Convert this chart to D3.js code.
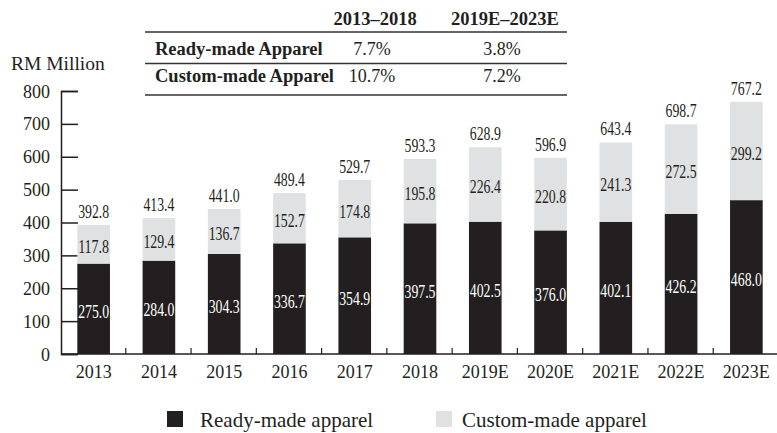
<!DOCTYPE html>
<html>
<head>
<meta charset="utf-8">
<script src="https://cdn.jsdelivr.net/npm/d3@7"></script>
<style>
  body { margin: 0; background: #fff; }
  svg { font-family: "Liberation Serif", "Times New Roman", serif; }
</style>
</head>
<body>
<svg width="777" height="433"></svg>
<script>
let years = ['2013', '2014', '2015', '2016', '2017', '2018', '2019E', '2020E', '2021E', '2022E', '2023E'];
let ready = [275.0, 284.0, 304.3, 336.7, 354.9, 397.5, 402.5, 376.0, 402.1, 426.2, 468.0];
let custom = [117.8, 129.4, 136.7, 152.7, 174.8, 195.8, 226.4, 220.8, 241.3, 272.5, 299.2];
let totals = [392.8, 413.4, 441.0, 489.4, 529.7, 593.3, 628.9, 596.9, 643.4, 698.7, 767.2];
let yTicks = [0, 100, 200, 300, 400, 500, 600, 700, 800];
let cagrHeads = ['2013–2018', '2019E–2023E'];
let cagrRows = ['Ready-made Apparel', 'Custom-made Apparel'];
let cagrVals = [['7.7%', '3.8%'], ['10.7%', '7.2%']];

let black = '#231f20';
let grey = '#e0e1e3';
let svg = d3.select('svg');

let xScale = d3.scaleBand()
    .domain(years)
    .range([61, 779])
    .paddingInner(0.5)
    .paddingOuter(0.25);

let yScale = d3.scaleLinear()
    .domain([0, 800])
    .range([354, 91]);

// y axis, ticks pointing into the plot
let yAxis = d3.axisRight(yScale).tickValues(yTicks).tickSize(17).tickFormat('');
let gy = svg.append('g').attr('transform', 'translate(61,0)').call(yAxis);
gy.select('.domain').attr('stroke', black).attr('stroke-width', 1.5);
gy.selectAll('.tick line').attr('stroke', black).attr('stroke-width', 1.5);
svg.selectAll('.ylab')
    .data(yTicks)
    .enter()
    .append('text')
    .attr('x', 50)
    .attr('y', d => yScale(d) + 6.5)
    .attr('text-anchor', 'end')
    .attr('font-size', 18)
    .attr('fill', black)
    .text(d => d);

svg.append('text')
    .attr('x', 11)
    .attr('y', 70)
    .attr('font-size', 19.5)
    .attr('fill', black)
    .text('RM Million');

// stacked bars
let step = xScale.step();
svg.selectAll('.ready')
    .data(years)
    .enter()
    .append('rect')
    .attr('x', d => xScale(d))
    .attr('width', xScale.bandwidth())
    .attr('y', (d, i) => yScale(ready[i]))
    .attr('height', (d, i) => yScale(0) - yScale(ready[i]))
    .attr('fill', black);

svg.selectAll('.custom')
    .data(years)
    .enter()
    .append('rect')
    .attr('x', d => xScale(d))
    .attr('width', xScale.bandwidth())
    .attr('y', (d, i) => yScale(ready[i] + custom[i]))
    .attr('height', (d, i) => yScale(ready[i]) - yScale(ready[i] + custom[i]))
    .attr('fill', grey);

// x axis
svg.append('line')
    .attr('x1', 61).attr('x2', 777)
    .attr('y1', yScale(0)).attr('y2', yScale(0))
    .attr('stroke', black).attr('stroke-width', 1.5);
svg.selectAll('.xtick')
    .data(years.slice(1))
    .enter()
    .append('line')
    .attr('x1', d => xScale(d) - step * 0.25 - 0.5)
    .attr('x2', d => xScale(d) - step * 0.25 - 0.5)
    .attr('y1', yScale(0)).attr('y2', yScale(0) - 6)
    .attr('stroke', black).attr('stroke-width', 1.2);
svg.selectAll('.xlab')
    .data(years)
    .enter()
    .append('text')
    .attr('x', d => xScale(d) + xScale.bandwidth() / 2)
    .attr('y', 378)
    .attr('text-anchor', 'middle')
    .attr('font-size', 18)
    .attr('fill', black)
    .text(d => d);

// value labels (narrow, like the original)
let cx = d => xScale(d) + xScale.bandwidth() / 2;
let label = (cls, yFn, txt, col) => {
    svg.selectAll('.' + cls)
        .data(years)
        .enter()
        .append('text')
        .attr('class', cls)
        .attr('x', cx)
        .attr('y', yFn)
        .attr('text-anchor', 'middle')
        .attr('font-size', 18)
        .attr('textLength', 31)
        .attr('lengthAdjust', 'spacingAndGlyphs')
        .attr('fill', col)
        .text(txt);
};
label('lr', (d, i) => (yScale(0) + yScale(ready[i])) / 2 + 9, (d, i) => ready[i].toFixed(1), '#fff');
label('lc', (d, i) => (yScale(ready[i]) + yScale(ready[i] + custom[i])) / 2 + 9, (d, i) => custom[i].toFixed(1), black);
label('lt', (d, i) => yScale(totals[i]) - 7, (d, i) => totals[i].toFixed(1), black);

// CAGR table
let table = svg.append('g');
let colX = [375, 505];
table.selectAll('.head')
    .data(cagrHeads)
    .enter()
    .append('text')
    .attr('x', (d, i) => colX[i])
    .attr('y', 25)
    .attr('text-anchor', 'middle')
    .attr('font-size', 18.5)
    .attr('font-weight', 'bold')
    .attr('fill', black)
    .text(d => d);
[32, 63.5, 95].forEach(y => {
    table.append('line')
        .attr('x1', 145).attr('x2', 567)
        .attr('y1', y).attr('y2', y)
        .attr('stroke', '#333').attr('stroke-width', 1.5);
});
cagrRows.forEach((r, i) => {
    let y = 55 + i * 27;
    table.append('text')
        .attr('x', 155).attr('y', y)
        .attr('font-size', 18.5).attr('font-weight', 'bold')
        .attr('fill', black).text(r);
    cagrVals[i].forEach((v, j) => {
        table.append('text')
            .attr('x', colX[j] - 3)
            .attr('y', y)
            .attr('text-anchor', 'middle')
            .attr('font-size', 18)
            .attr('fill', black)
            .text(v);
    });
});

// legend
let legend = [['Ready-made apparel', black, 167, 200], ['Custom-made apparel', grey, 436, 462]];
legend.forEach(l => {
    svg.append('rect')
        .attr('x', l[2]).attr('y', 411)
        .attr('width', 16).attr('height', 16)
        .attr('fill', l[1]);
    svg.append('text')
        .attr('x', l[3]).attr('y', 427)
        .attr('font-size', 21)
        .attr('fill', black)
        .text(l[0]);
});
</script>
</body>
</html>
